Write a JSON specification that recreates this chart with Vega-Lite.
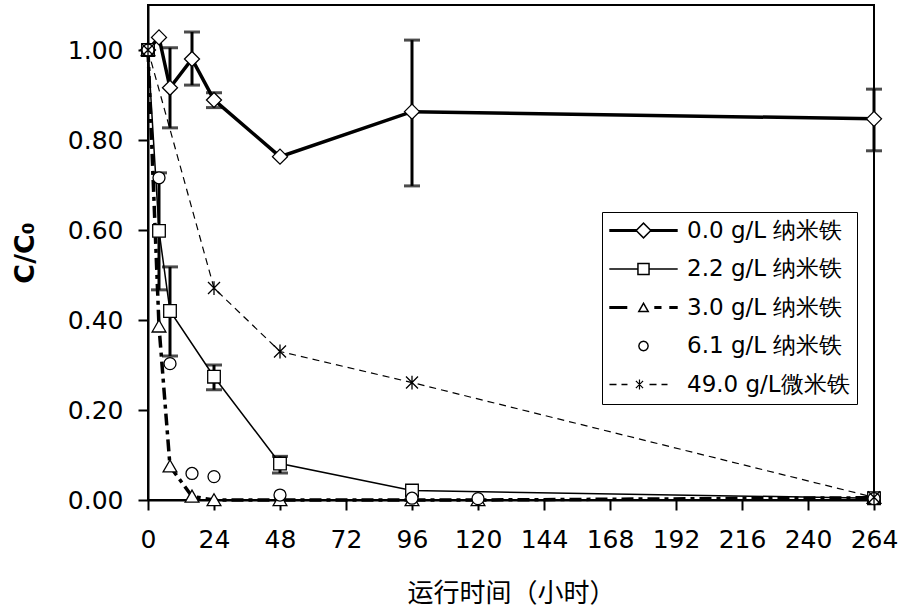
{
  "$schema": "https://vega.github.io/schema/vega-lite/v6.json",
  "width": 726,
  "height": 495,
  "autosize": {"type": "none"},
  "padding": {"left": 148, "top": 5, "right": 36, "bottom": 116},
  "background": "white",
  "datasets": {
    "pts": [
      {"series": "0.0 g/L 纳米铁", "t": 0, "v": 1.0},
      {"series": "0.0 g/L 纳米铁", "t": 4, "v": 1.028},
      {"series": "0.0 g/L 纳米铁", "t": 8, "v": 0.916},
      {"series": "0.0 g/L 纳米铁", "t": 16, "v": 0.98},
      {"series": "0.0 g/L 纳米铁", "t": 24, "v": 0.889},
      {"series": "0.0 g/L 纳米铁", "t": 48, "v": 0.763},
      {"series": "0.0 g/L 纳米铁", "t": 96, "v": 0.863},
      {"series": "0.0 g/L 纳米铁", "t": 264, "v": 0.847},
      {"series": "2.2 g/L 纳米铁", "t": 0, "v": 1.0},
      {"series": "2.2 g/L 纳米铁", "t": 4, "v": 0.598},
      {"series": "2.2 g/L 纳米铁", "t": 8, "v": 0.42},
      {"series": "2.2 g/L 纳米铁", "t": 24, "v": 0.274},
      {"series": "2.2 g/L 纳米铁", "t": 48, "v": 0.081},
      {"series": "2.2 g/L 纳米铁", "t": 96, "v": 0.021},
      {"series": "2.2 g/L 纳米铁", "t": 264, "v": 0.004},
      {"series": "3.0 g/L 纳米铁", "t": 0, "v": 1.0},
      {"series": "3.0 g/L 纳米铁", "t": 4, "v": 0.386},
      {"series": "3.0 g/L 纳米铁", "t": 8, "v": 0.075},
      {"series": "3.0 g/L 纳米铁", "t": 16, "v": 0.008},
      {"series": "3.0 g/L 纳米铁", "t": 24, "v": 0.0},
      {"series": "3.0 g/L 纳米铁", "t": 48, "v": 0.0},
      {"series": "3.0 g/L 纳米铁", "t": 96, "v": 0.0},
      {"series": "3.0 g/L 纳米铁", "t": 120, "v": 0.0},
      {"series": "3.0 g/L 纳米铁", "t": 264, "v": 0.005},
      {"series": "6.1 g/L 纳米铁", "t": 0, "v": 1.0},
      {"series": "6.1 g/L 纳米铁", "t": 4, "v": 0.716},
      {"series": "6.1 g/L 纳米铁", "t": 8, "v": 0.303},
      {"series": "6.1 g/L 纳米铁", "t": 16, "v": 0.059},
      {"series": "6.1 g/L 纳米铁", "t": 24, "v": 0.052},
      {"series": "6.1 g/L 纳米铁", "t": 48, "v": 0.011},
      {"series": "6.1 g/L 纳米铁", "t": 96, "v": 0.004},
      {"series": "6.1 g/L 纳米铁", "t": 120, "v": 0.003},
      {"series": "6.1 g/L 纳米铁", "t": 264, "v": 0.003},
      {"series": "49.0 g/L微米铁", "t": 0, "v": 1.0},
      {"series": "49.0 g/L微米铁", "t": 24, "v": 0.471},
      {"series": "49.0 g/L微米铁", "t": 48, "v": 0.33},
      {"series": "49.0 g/L微米铁", "t": 96, "v": 0.261},
      {"series": "49.0 g/L微米铁", "t": 264, "v": 0.006}
    ],
    "err": [
      {"series": "0.0 g/L 纳米铁", "t": 8, "lo": 0.827, "hi": 1.005},
      {"series": "0.0 g/L 纳米铁", "t": 16, "lo": 0.922, "hi": 1.04},
      {"series": "0.0 g/L 纳米铁", "t": 24, "lo": 0.872, "hi": 0.905},
      {"series": "0.0 g/L 纳米铁", "t": 96, "lo": 0.698, "hi": 1.022},
      {"series": "0.0 g/L 纳米铁", "t": 264, "lo": 0.776, "hi": 0.913},
      {"series": "2.2 g/L 纳米铁", "t": 4, "lo": 0.467, "hi": 0.727},
      {"series": "2.2 g/L 纳米铁", "t": 8, "lo": 0.32, "hi": 0.518},
      {"series": "2.2 g/L 纳米铁", "t": 24, "lo": 0.245, "hi": 0.3},
      {"series": "2.2 g/L 纳米铁", "t": 48, "lo": 0.06, "hi": 0.097}
    ]
  },
  "config": {
    "view": {"stroke": "black", "strokeWidth": 2},
    "axis": {
      "grid": false,
      "domainColor": "black",
      "domainWidth": 2,
      "tickColor": "black",
      "tickWidth": 2,
      "tickSize": 10,
      "labelColor": "black",
      "labelFont": "DejaVu Sans",
      "labelFontSize": 25,
      "titleColor": "black",
      "labelOverlap": false
    },
    "axisX": {
      "labelPadding": 17,
      "labelFlush": false,
      "titleFont": "Noto Sans CJK SC",
      "titleFontSize": 26,
      "titleFontWeight": "normal",
      "titlePadding": 28
    },
    "axisY": {
      "labelPadding": 15,
      "titleFont": "DejaVu Sans",
      "titleFontSize": 27,
      "titleFontWeight": "bold",
      "titlePadding": 28
    }
  },
  "resolve": {"scale": {"shape": "independent"}},
  "layer": [
    {
      "data": {"name": "err"},
      "mark": {"type": "rule", "stroke": "black", "strokeWidth": 3},
      "encoding": {
        "x": {"field": "t", "type": "quantitative", "title": "运行时间（小时）"},
        "y": {"field": "lo", "type": "quantitative", "title": "C/C₀"},
        "y2": {"field": "hi"}
      }
    },
    {
      "data": {"name": "err"},
      "mark": {"type": "tick", "orient": "horizontal", "color": "black", "size": 16, "thickness": 3},
      "encoding": {
        "x": {"field": "t", "type": "quantitative", "title": "运行时间（小时）"},
        "y": {"field": "lo", "type": "quantitative", "title": "C/C₀"}
      }
    },
    {
      "data": {"name": "err"},
      "mark": {"type": "tick", "orient": "horizontal", "color": "black", "size": 16, "thickness": 3},
      "encoding": {
        "x": {"field": "t", "type": "quantitative", "title": "运行时间（小时）"},
        "y": {"field": "hi", "type": "quantitative", "title": "C/C₀"}
      }
    },
    {
      "data": {"name": "pts"},
      "transform": [{"filter": "datum.series === '49.0 g/L微米铁'"}],
      "mark": {"type": "line", "stroke": "black", "strokeWidth": 1.2, "strokeDash": [7, 5]},
      "encoding": {
        "x": {"field": "t", "type": "quantitative", "title": "运行时间（小时）"},
        "y": {"field": "v", "type": "quantitative", "title": "C/C₀"},
        "order": {"field": "t", "type": "quantitative"}
      }
    },
    {
      "data": {"name": "pts"},
      "transform": [{"filter": "datum.series === '3.0 g/L 纳米铁'"}],
      "mark": {"type": "line", "stroke": "black", "strokeWidth": 3.5, "strokeDash": [12, 5, 4, 5]},
      "encoding": {
        "x": {"field": "t", "type": "quantitative", "title": "运行时间（小时）"},
        "y": {"field": "v", "type": "quantitative", "title": "C/C₀"},
        "order": {"field": "t", "type": "quantitative"}
      }
    },
    {
      "data": {"name": "pts"},
      "transform": [{"filter": "datum.series === '2.2 g/L 纳米铁'"}],
      "mark": {"type": "line", "stroke": "black", "strokeWidth": 1.5},
      "encoding": {
        "x": {"field": "t", "type": "quantitative", "title": "运行时间（小时）"},
        "y": {"field": "v", "type": "quantitative", "title": "C/C₀"},
        "order": {"field": "t", "type": "quantitative"}
      }
    },
    {
      "data": {"name": "pts"},
      "transform": [{"filter": "datum.series === '0.0 g/L 纳米铁'"}],
      "mark": {"type": "line", "stroke": "black", "strokeWidth": 3.5},
      "encoding": {
        "x": {"field": "t", "type": "quantitative", "title": "运行时间（小时）"},
        "y": {"field": "v", "type": "quantitative", "title": "C/C₀"},
        "order": {"field": "t", "type": "quantitative"}
      }
    },
    {
      "data": {"name": "pts"},
      "mark": {"type": "point", "filled": true, "fill": "white", "stroke": "black", "strokeWidth": 1.3, "size": 144, "opacity": 1},
      "encoding": {
        "x": {
          "field": "t", "type": "quantitative", "title": "运行时间（小时）",
          "scale": {"domain": [0, 264], "nice": false, "zero": false},
          "axis": {"values": [0, 24, 48, 72, 96, 120, 144, 168, 192, 216, 240, 264], "format": "d"}
        },
        "y": {
          "field": "v", "type": "quantitative", "title": "C/C₀",
          "scale": {"domain": [0, 1.1], "nice": false},
          "axis": {"values": [0, 0.2, 0.4, 0.6, 0.8, 1.0], "format": ".2f"}
        },
        "shape": {
          "field": "series", "type": "nominal",
          "scale": {
            "domain": ["0.0 g/L 纳米铁", "2.2 g/L 纳米铁", "3.0 g/L 纳米铁", "6.1 g/L 纳米铁", "49.0 g/L微米铁"],
            "range": [
              "M-1.25,0L0,-1.25L1.25,0L0,1.25Z",
              "M-1.05,-1.05L1.05,-1.05L1.05,1.05L-1.05,1.05Z",
              "M0,-1.05L1.15,0.95L-1.15,0.95Z",
              "circle",
              "M-1,-1L1,1M-1,1L1,-1M0,-1.15L0,1.15"
            ]
          },
          "legend": null
        }
      }
    },
    {
      "data": {"name": "pts"},
      "transform": [{"filter": "false"}],
      "mark": {"type": "point", "filled": true, "fill": "black", "stroke": "transparent", "strokeWidth": 0, "size": 144, "opacity": 1},
      "encoding": {
        "x": {"field": "t", "type": "quantitative", "title": "运行时间（小时）"},
        "y": {"field": "v", "type": "quantitative", "title": "C/C₀"},
        "shape": {
          "field": "series", "type": "nominal",
          "scale": {
            "domain": ["0.0 g/L 纳米铁", "2.2 g/L 纳米铁", "3.0 g/L 纳米铁", "6.1 g/L 纳米铁", "49.0 g/L微米铁"],
            "range": [
              "M-5.7,-0.27L-1.1,-0.27L-1.1,0.27L-5.7,0.27Z M1.1,-0.27L5.7,-0.27L5.7,0.27L1.1,0.27Z M-1.4,0L0,-1.4L1.4,0L0,1.4Z M-1.05,0L0,1.05L1.05,0L0,-1.05Z",
              "M-5.7,-0.13L-1.05,-0.13L-1.05,0.13L-5.7,0.13Z M1.05,-0.13L5.7,-0.13L5.7,0.13L1.05,0.13Z M-1.05,-1.05L1.05,-1.05L1.05,1.05L-1.05,1.05Z M-0.8,-0.8L-0.8,0.8L0.8,0.8L0.8,-0.8Z",
              "M-5.7,-0.27L-2.7,-0.27L-2.7,0.27L-5.7,0.27Z M1.8,-0.27L3.0,-0.27L3.0,0.27L1.8,0.27Z M4.3,-0.27L5.7,-0.27L5.7,0.27L4.3,0.27Z M0,-0.95L1,0.8L-1,0.8Z M0,-0.45L-0.57,0.55L0.57,0.55Z",
              "M0.9,0L0.779,0.45L0.45,0.779L0,0.9L-0.45,0.779L-0.779,0.45L-0.9,0L-0.779,-0.45L-0.45,-0.779L0,-0.9L0.45,-0.779L0.779,-0.45Z M0.66,0L0.572,-0.33L0.33,-0.572L0,-0.66L-0.33,-0.572L-0.572,-0.33L-0.66,0L-0.572,0.33L-0.33,0.572L0,0.66L0.33,0.572L0.572,0.33Z",
              "M-5.67,-0.11L-4.5,-0.11L-4.5,0.11L-5.67,0.11Z M-3.67,-0.11L-2.67,-0.11L-2.67,0.11L-3.67,0.11Z M1,-0.11L2.17,-0.11L2.17,0.11L1,0.11Z M3,-0.11L4,-0.11L4,0.11L3,0.11Z M-0.77,-0.85L-0.57,-0.85L-0.57,0.85L-0.77,0.85Z M-1.199,-0.671L0.001,0.529L-0.141,0.671L-1.341,-0.529Z M-1.341,0.529L-0.141,-0.671L0.001,-0.529L-1.199,0.671Z"
            ]
          },
          "legend": {
            "orient": "none",
            "legendX": 454,
            "legendY": 207,
            "title": null,
            "padding": 7,
            "rowPadding": 14.5,
            "symbolSize": 144,
            "symbolStrokeWidth": 0,
            "symbolFillColor": "black",
            "symbolStrokeColor": "transparent",
            "symbolOpacity": 1,
            "symbolOffset": 23,
            "labelOffset": 32,
            "labelFont": "DejaVu Sans",
            "labelFontSize": 23,
            "labelColor": "black",
            "labelLimit": 400,
            "strokeColor": "black",
            "fillColor": "white"
          }
        }
      }
    }
  ]
}
